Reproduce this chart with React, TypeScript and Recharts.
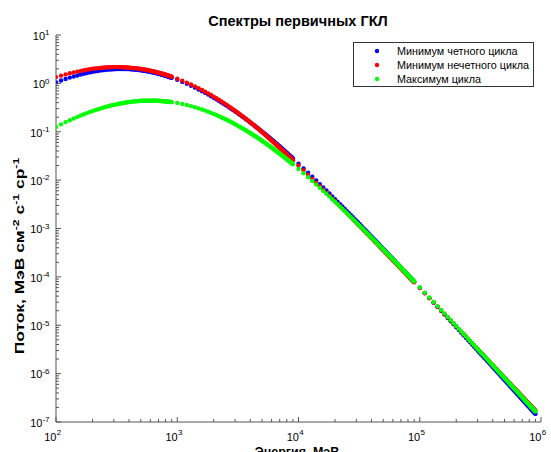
import React from 'react';
import { ScatterChart, Scatter, XAxis, YAxis } from 'recharts';

// Energy grid (MeV): every decade is sampled at these multipliers
const STEPS = [
  1, 1.1, 1.2, 1.3, 1.4, 1.5, 1.6, 1.7, 1.8, 1.9,
  2, 2.1, 2.2, 2.3, 2.4, 2.5, 2.6, 2.7, 2.8, 2.9,
  3, 3.1, 3.2, 3.3, 3.4, 3.5, 3.6, 3.7, 3.8, 3.9,
  4, 4.1, 4.2, 4.3, 4.4, 4.5, 4.6, 4.7, 4.8, 4.9,
  5, 5.1, 5.2, 5.3, 5.4, 5.5, 5.6, 5.7, 5.8, 5.9,
  6, 6.1, 6.2, 6.3, 6.4, 6.5, 6.6, 6.7, 6.8, 6.9,
  7, 7.1, 7.2, 7.3, 7.4, 7.5, 7.6, 7.7, 7.8, 7.9,
  8, 8.1, 8.2, 8.3, 8.4, 8.5, 8.6, 8.7, 8.8, 8.9,
  9,
];
const DECADES = [100, 1000, 10000, 100000];

// Axis tick labels (powers of ten) and minor tick multipliers
const X_EXPONENTS = [2, 3, 4, 5, 6];
const Y_EXPONENTS = [-7, -6, -5, -4, -3, -2, -1, 0, 1];
const MINOR_MULTIPLIERS = [2, 3, 4, 5, 6, 7, 8, 9];

const SERIES_NAMES = ['Минимум четного цикла', 'Минимум нечетного цикла', 'Максимум цикла'];
const SERIES_COLORS = ['#0000ff', '#ff0000', '#00ff00'];

// log10 of flux, one value per energy of the grid
const logFluxEvenMin = [
  0.020, 0.058, 0.091, 0.119, 0.143, 0.164, 0.183, 0.200,
  0.214, 0.227, 0.238, 0.248, 0.256, 0.264, 0.270, 0.276, 0.281, 0.285, 0.288, 0.291, 0.293, 0.295,
  0.296, 0.297, 0.298, 0.298, 0.298, 0.298, 0.297, 0.296, 0.295, 0.293, 0.292, 0.290, 0.288, 0.285, 0.283, 0.281, 0.278, 0.275, 0.272, 0.269, 0.266, 0.263, 0.260, 0.256, 0.253,
  0.249, 0.246, 0.242, 0.238, 0.235, 0.231, 0.227, 0.223, 0.220, 0.216, 0.212, 0.208, 0.204, 0.200, 0.196, 0.191, 0.187, 0.183, 0.179, 0.175, 0.171, 0.167, 0.162, 0.158, 0.154, 0.150, 0.146, 0.141, 0.137, 0.133, 0.129, 0.124, 0.120, 0.116,

  0.073, 0.031, -0.010, -0.050, -0.088, -0.126, -0.162, -0.197,
  -0.232, -0.265, -0.298, -0.329, -0.360, -0.390, -0.419, -0.447, -0.475, -0.502, -0.529, -0.554, -0.580, -0.604,
  -0.628, -0.652, -0.676, -0.698, -0.721, -0.743, -0.764, -0.785, -0.806, -0.827, -0.847, -0.867, -0.886, -0.905, -0.924, -0.943, -0.961, -0.979, -0.997, -1.014, -1.031, -1.048, -1.065, -1.082, -1.098,
  -1.114, -1.130, -1.146, -1.162, -1.177, -1.192, -1.207, -1.222, -1.236, -1.250, -1.265, -1.279, -1.293, -1.306, -1.320, -1.333, -1.347, -1.360, -1.373, -1.386, -1.398, -1.411, -1.423, -1.436, -1.448, -1.460, -1.472, -1.484, -1.495, -1.507, -1.519, -1.530, -1.541, -1.553,

  -1.659, -1.758, -1.848, -1.931, -2.009, -2.083, -2.151, -2.216, -2.278, -2.336, -2.392, -2.445, -2.496, -2.545, -2.592, -2.637, -2.680, -2.722, -2.763, -2.802, -2.840, -2.877,
  -2.913, -2.948, -2.982, -3.014, -3.046, -3.077, -3.108, -3.137, -3.166, -3.194, -3.221, -3.249, -3.275, -3.300, -3.325, -3.350, -3.374, -3.398, -3.421, -3.444,
  -3.466, -3.488, -3.509, -3.530, -3.551, -3.571, -3.591, -3.611, -3.631, -3.649, -3.668, -3.687, -3.705, -3.723, -3.740, -3.758, -3.775, -3.792, -3.808, -3.825,
  -3.841, -3.857, -3.873, -3.889, -3.904, -3.920, -3.934, -3.949, -3.964, -3.979, -3.992, -4.007, -4.021, -4.034, -4.048, -4.062, -4.075, -4.088, -4.101,

  -4.224, -4.336, -4.439, -4.533, -4.620, -4.701, -4.777, -4.849, -4.916, -4.980, -5.041, -5.099, -5.154, -5.206, -5.257, -5.305, -5.352, -5.397, -5.440, -5.482, -5.522, -5.561,
  -5.598, -5.635, -5.671, -5.705, -5.739, -5.771, -5.803, -5.834, -5.864, -5.894, -5.922, -5.951, -5.978, -6.005, -6.031, -6.057, -6.082, -6.106, -6.131, -6.154,
  -6.177, -6.200, -6.222, -6.244, -6.266, -6.287, -6.308, -6.328, -6.348, -6.368, -6.387, -6.406, -6.425, -6.444, -6.462, -6.480, -6.498, -6.515, -6.532, -6.550,
  -6.566, -6.583, -6.599, -6.615, -6.631, -6.647, -6.662, -6.677, -6.692, -6.707, -6.722, -6.736, -6.751, -6.765, -6.779, -6.793, -6.806, -6.820, -6.833,
];

const logFluxOddMin = [
  0.130, 0.160, 0.186, 0.208, 0.227, 0.243, 0.258, 0.271,
  0.282, 0.292, 0.301, 0.308, 0.314, 0.319, 0.323, 0.327, 0.330, 0.332, 0.334, 0.335, 0.336, 0.336,
  0.336, 0.336, 0.335, 0.334, 0.333, 0.331, 0.330, 0.328, 0.326, 0.324, 0.321, 0.319, 0.316, 0.313, 0.311, 0.308, 0.305, 0.301, 0.298, 0.295, 0.291, 0.288, 0.284, 0.281, 0.277,
  0.273, 0.269, 0.266, 0.262, 0.258, 0.254, 0.250, 0.246, 0.242, 0.238, 0.234, 0.230, 0.226, 0.222, 0.218, 0.214, 0.210, 0.205, 0.201, 0.197, 0.193, 0.189, 0.185, 0.180, 0.176, 0.172, 0.168, 0.164, 0.160, 0.155, 0.151, 0.147, 0.143, 0.139,

  0.097, 0.056, 0.016, -0.023, -0.062, -0.099, -0.136, -0.172,
  -0.207, -0.241, -0.274, -0.306, -0.338, -0.368, -0.398, -0.428, -0.457, -0.485, -0.512, -0.539, -0.566, -0.592,
  -0.617, -0.642, -0.667, -0.691, -0.715, -0.738, -0.760, -0.783, -0.805, -0.826, -0.847, -0.868, -0.889, -0.909, -0.929, -0.948, -0.968, -0.987, -1.005, -1.024, -1.042, -1.060, -1.078, -1.095, -1.113,
  -1.130, -1.147, -1.164, -1.180, -1.196, -1.212, -1.227, -1.243, -1.258, -1.273, -1.288, -1.303, -1.317, -1.332, -1.346, -1.360, -1.374, -1.387, -1.401, -1.414, -1.428, -1.441, -1.453, -1.466, -1.479, -1.491, -1.504, -1.516, -1.528, -1.540, -1.552, -1.564, -1.576, -1.587,

  -1.697, -1.797, -1.890, -1.974, -2.053, -2.127, -2.196, -2.261, -2.323, -2.382, -2.437, -2.490, -2.541, -2.589, -2.636, -2.680, -2.724, -2.765, -2.805, -2.844, -2.881, -2.918,
  -2.953, -2.987, -3.020, -3.053, -3.084, -3.114, -3.144, -3.173, -3.201, -3.229, -3.255, -3.282, -3.307, -3.332, -3.357, -3.381, -3.404, -3.428, -3.450, -3.472,
  -3.494, -3.516, -3.536, -3.557, -3.577, -3.597, -3.617, -3.636, -3.655, -3.673, -3.692, -3.709, -3.727, -3.745, -3.762, -3.779, -3.796, -3.812, -3.828, -3.844,
  -3.860, -3.876, -3.891, -3.906, -3.921, -3.936, -3.951, -3.965, -3.979, -3.993, -4.007, -4.021, -4.035, -4.048, -4.061, -4.074, -4.087, -4.100, -4.113,

  -4.232, -4.341, -4.440, -4.531, -4.616, -4.695, -4.768, -4.838, -4.903, -4.965, -5.024, -5.080, -5.133, -5.185, -5.234, -5.281, -5.326, -5.370, -5.412, -5.452, -5.491, -5.529,
  -5.566, -5.601, -5.636, -5.669, -5.702, -5.734, -5.764, -5.794, -5.824, -5.852, -5.880, -5.907, -5.934, -5.960, -5.986, -6.010, -6.035, -6.059, -6.082, -6.105,
  -6.127, -6.150, -6.171, -6.193, -6.213, -6.234, -6.254, -6.274, -6.294, -6.313, -6.332, -6.350, -6.368, -6.386, -6.404, -6.421, -6.439, -6.456, -6.472, -6.489,
  -6.505, -6.521, -6.537, -6.553, -6.568, -6.583, -6.598, -6.613, -6.627, -6.642, -6.656, -6.670, -6.684, -6.698, -6.712, -6.725, -6.738, -6.751, -6.764,
];

const logFluxMax = [
  -0.900, -0.847, -0.801, -0.761, -0.725, -0.693, -0.664, -0.638,
  -0.614, -0.592, -0.573, -0.555, -0.538, -0.523, -0.509, -0.496, -0.484, -0.473, -0.463, -0.453, -0.445, -0.436,
  -0.429, -0.422, -0.415, -0.409, -0.404, -0.399, -0.394, -0.390, -0.386, -0.382, -0.379, -0.376, -0.373, -0.371, -0.368, -0.366, -0.365, -0.363, -0.362, -0.360, -0.359, -0.358, -0.358, -0.357, -0.357,
  -0.356, -0.356, -0.356, -0.356, -0.356, -0.356, -0.357, -0.357, -0.357, -0.358, -0.358, -0.359, -0.360, -0.361, -0.362, -0.363, -0.364, -0.365, -0.366, -0.367, -0.368, -0.370, -0.371, -0.372, -0.374, -0.375, -0.377, -0.378, -0.380, -0.381, -0.383, -0.385, -0.386, -0.388,

  -0.407, -0.427, -0.448, -0.471, -0.494, -0.517, -0.540, -0.563,
  -0.587, -0.610, -0.632, -0.655, -0.677, -0.699, -0.720, -0.742, -0.763, -0.783, -0.804, -0.824, -0.844, -0.863,
  -0.883, -0.902, -0.920, -0.939, -0.957, -0.975, -0.992, -1.010, -1.027, -1.044, -1.060, -1.077, -1.093, -1.109, -1.125, -1.140, -1.155, -1.171, -1.186, -1.201, -1.215, -1.230, -1.244, -1.258, -1.272,
  -1.286, -1.300, -1.313, -1.327, -1.340, -1.353, -1.366, -1.379, -1.392, -1.404, -1.417, -1.429, -1.441, -1.453, -1.465, -1.477, -1.488, -1.500, -1.512, -1.523, -1.534, -1.545, -1.556, -1.567, -1.578, -1.589, -1.600, -1.611, -1.621, -1.631, -1.642, -1.652, -1.662, -1.672,

  -1.769, -1.859, -1.942, -2.019, -2.091, -2.159, -2.223, -2.283, -2.341, -2.396, -2.448, -2.499, -2.547, -2.593, -2.638, -2.680, -2.722, -2.762, -2.801, -2.839, -2.875, -2.911,
  -2.945, -2.978, -3.011, -3.043, -3.073, -3.103, -3.132, -3.161, -3.189, -3.216, -3.242, -3.268, -3.294, -3.318, -3.343, -3.366, -3.390, -3.413, -3.435, -3.457,
  -3.479, -3.500, -3.521, -3.541, -3.561, -3.581, -3.600, -3.620, -3.638, -3.657, -3.675, -3.693, -3.711, -3.728, -3.745, -3.762, -3.779, -3.795, -3.811, -3.828,
  -3.843, -3.859, -3.874, -3.889, -3.904, -3.919, -3.934, -3.948, -3.963, -3.977, -3.990, -4.004, -4.018, -4.031, -4.045, -4.058, -4.071, -4.084, -4.096,

  -4.217, -4.326, -4.426, -4.518, -4.604, -4.684, -4.758, -4.828, -4.895, -4.958, -5.017, -5.074, -5.128, -5.180, -5.229, -5.277, -5.323, -5.367, -5.410, -5.450, -5.490, -5.529,
  -5.566, -5.602, -5.637, -5.671, -5.704, -5.736, -5.768, -5.798, -5.828, -5.857, -5.885, -5.913, -5.940, -5.966, -5.992, -6.017, -6.042, -6.067, -6.090, -6.114,
  -6.137, -6.159, -6.181, -6.203, -6.224, -6.245, -6.265, -6.286, -6.305, -6.325, -6.344, -6.363, -6.381, -6.400, -6.418, -6.436, -6.453, -6.470, -6.487, -6.504,
  -6.521, -6.537, -6.553, -6.569, -6.585, -6.600, -6.615, -6.630, -6.645, -6.660, -6.674, -6.689, -6.703, -6.717, -6.731, -6.744, -6.758, -6.771, -6.785,
];

// ---- tables built from the arrays above ----
const energies = DECADES.flatMap((d) => STEPS.map((m) => d * m));
const toRows = (logs: number[]) => energies.map((e, i) => ({ e, f: Math.pow(10, logs[i]) }));
const SERIES = [logFluxEvenMin, logFluxOddMin, logFluxMax].map((logs, k) => ({
  name: SERIES_NAMES[k],
  color: SERIES_COLORS[k],
  data: toRows(logs),
}));

const X_MAJOR = X_EXPONENTS.map((p) => Math.pow(10, p));
const X_MINOR = X_EXPONENTS.slice(0, -1).flatMap((p) => MINOR_MULTIPLIERS.map((m) => m * Math.pow(10, p)));
const X_TICKS = [...X_MAJOR, ...X_MINOR];
const Y_MAJOR = Y_EXPONENTS.map((p) => Math.pow(10, p));
const Y_MINOR = Y_EXPONENTS.slice(0, -1).flatMap((p) => MINOR_MULTIPLIERS.map((m) => m * Math.pow(10, p)));
const Y_TICKS = [...Y_MAJOR, ...Y_MINOR];

const X_DOMAIN: [number, number] = [X_MAJOR[0], X_MAJOR[X_MAJOR.length - 1]];
const Y_DOMAIN: [number, number] = [Y_MAJOR[0], Y_MAJOR[Y_MAJOR.length - 1]];

const FONT = '"Liberation Sans", Arial, Helvetica, sans-serif';
const AXIS_COLOR = '#555555';
const MAJOR_LEN = 5;
const MINOR_LEN = 3;

const BottomTick = (props: any) => {
  const { x, y, payload } = props;
  const i = X_MAJOR.indexOf(payload.value);
  const len = i >= 0 ? MAJOR_LEN : MINOR_LEN;
  return (
    <g>
      <line x1={x} y1={y} x2={x} y2={y - len} stroke={AXIS_COLOR} strokeWidth={1} />
      {i >= 0 && (
        <g fontFamily={FONT} fill="#000">
          <text x={x + 0.5} y={y + 19} fontSize={11} textAnchor="end">10</text>
          <text x={x + 0.8} y={y + 13} fontSize={8}>{X_EXPONENTS[i]}</text>
        </g>
      )}
    </g>
  );
};

const TopTick = (props: any) => {
  const { x, y, payload } = props;
  const len = X_MAJOR.indexOf(payload.value) >= 0 ? MAJOR_LEN : MINOR_LEN;
  return <line x1={x} y1={y} x2={x} y2={y + len} stroke={AXIS_COLOR} strokeWidth={1} />;
};

const LeftTick = (props: any) => {
  const { x, y, payload } = props;
  const i = Y_MAJOR.indexOf(payload.value);
  const len = i >= 0 ? MAJOR_LEN : MINOR_LEN;
  return (
    <g>
      <line x1={x} y1={y} x2={x + len} y2={y} stroke={AXIS_COLOR} strokeWidth={1} />
      {i >= 0 && (
        <text x={x - 6.5} y={y + 4.8} fontSize={11} textAnchor="end" fontFamily={FONT} fill="#000">
          <tspan>10</tspan>
          <tspan dy={-4.5} fontSize={8}>{String(Y_EXPONENTS[i])}</tspan>
        </text>
      )}
    </g>
  );
};

const RightTick = (props: any) => {
  const { x, y, payload } = props;
  const len = Y_MAJOR.indexOf(payload.value) >= 0 ? MAJOR_LEN : MINOR_LEN;
  return <line x1={x} y1={y} x2={x - len} y2={y} stroke={AXIS_COLOR} strokeWidth={1} />;
};

const makeDot = (color: string) => (p: any) => <circle cx={p.cx} cy={p.cy} r={2.2} fill={color} />;

const LEGEND_ROWS_Y = [51, 65, 79];

export default function App() {
  return (
    <div style={{ position: 'absolute', left: 0, top: 0, width: 551, height: 452, background: '#fff', overflow: 'hidden' }}>
      <ScatterChart width={551} height={452} margin={{ top: 35, right: 10, bottom: 0, left: 0 }}>
        <XAxis
          xAxisId="main"
          type="number"
          dataKey="e"
          scale="log"
          domain={X_DOMAIN}
          allowDataOverflow
          ticks={X_TICKS}
          interval={0}
          orientation="bottom"
          height={30}
          tickSize={0}
          tickMargin={0}
          tickLine={false}
          axisLine={{ stroke: AXIS_COLOR }}
          tick={(p: any) => <BottomTick {...p} />}
        />
        <XAxis
          xAxisId="top"
          type="number"
          scale="log"
          domain={X_DOMAIN}
          allowDataOverflow
          ticks={X_TICKS}
          interval={0}
          orientation="top"
          height={0}
          tickSize={0}
          tickMargin={0}
          tickLine={false}
          axisLine={{ stroke: AXIS_COLOR }}
          tick={(p: any) => <TopTick {...p} />}
        />
        <YAxis
          yAxisId="main"
          type="number"
          dataKey="f"
          scale="log"
          domain={Y_DOMAIN}
          allowDataOverflow
          ticks={Y_TICKS}
          interval={0}
          orientation="left"
          width={56}
          tickSize={0}
          tickMargin={0}
          tickLine={false}
          axisLine={{ stroke: AXIS_COLOR }}
          tick={(p: any) => <LeftTick {...p} />}
        />
        <YAxis
          yAxisId="right"
          type="number"
          scale="log"
          domain={Y_DOMAIN}
          allowDataOverflow
          ticks={Y_TICKS}
          interval={0}
          orientation="right"
          width={0}
          tickSize={0}
          tickMargin={0}
          tickLine={false}
          axisLine={{ stroke: AXIS_COLOR }}
          tick={(p: any) => <RightTick {...p} />}
        />
        {SERIES.map((s) => (
          <Scatter
            key={s.name}
            name={s.name}
            xAxisId="main"
            yAxisId="main"
            data={s.data}
            fill={s.color}
            shape={makeDot(s.color)}
            isAnimationActive={false}
          />
        ))}
      </ScatterChart>
      <svg
        width={551}
        height={452}
        style={{ position: 'absolute', left: 0, top: 0, pointerEvents: 'none' }}
        fontFamily={FONT}
      >
        <text x={298} y={26} textAnchor="middle" fontWeight="bold" fontSize={14.5} fill="#000">
          Спектры первичных ГКЛ
        </text>
        <text x={297} y={455.5} textAnchor="middle" fontWeight="bold" fontSize={12.5} fill="#000">
          Энергия, МэВ
        </text>
        <text transform="translate(23.5,256) rotate(-90) scale(1.45,1)" textAnchor="middle" fontWeight="bold" fontSize={12} fill="#000">
          <tspan>Поток, МэВ см</tspan>
          <tspan dy={-5} fontSize={8.5}>-2</tspan>
          <tspan dy={5}> с</tspan>
          <tspan dy={-5} fontSize={8.5}>-1</tspan>
          <tspan dy={5}> ср</tspan>
          <tspan dy={-5} fontSize={8.5}>-1</tspan>
        </text>
        <rect x={353.5} y={42.5} width={180} height={44} fill="#fff" stroke="#333" strokeWidth={1} />
        {SERIES.map((s, k) => (
          <g key={s.name}>
            <circle cx={377} cy={LEGEND_ROWS_Y[k]} r={2.2} fill={s.color} />
            <text x={397} y={LEGEND_ROWS_Y[k] + 4} fontSize={10.8} fill="#000">
              {s.name}
            </text>
          </g>
        ))}
      </svg>
    </div>
  );
}
